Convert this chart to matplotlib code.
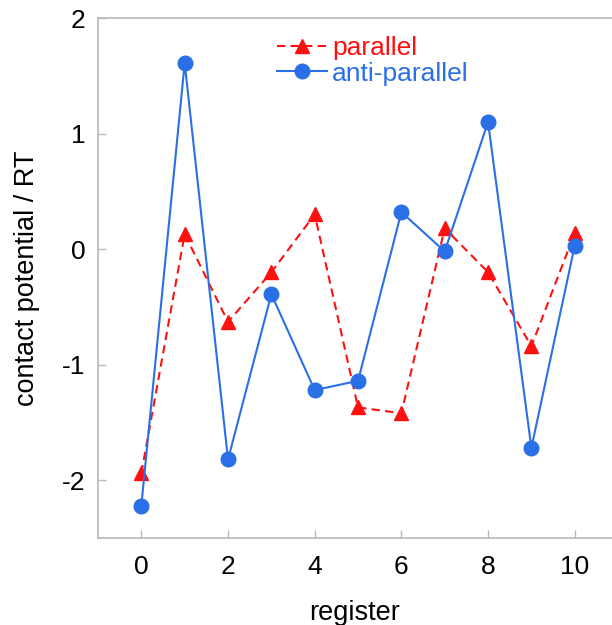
import matplotlib

matplotlib.use("Agg")
import matplotlib.pyplot as plt

registers = [0, 1, 2, 3, 4, 5, 6, 7, 8, 9, 10]
parallel = [-1.94, 0.13, -0.63, -0.20, 0.30, -1.37, -1.42, 0.18, -0.20, -0.84, 0.14]
anti_parallel = [-2.22, 1.61, -1.82, -0.39, -1.22, -1.14, 0.32, -0.02, 1.10, -1.72, 0.03]
x_ticks = [0, 2, 4, 6, 8, 10]
y_ticks = [-2, -1, 0, 1, 2]

RED = "#ff1010"
BLUE = "#2b6fe6"
GRAY = "#b8b8b8"

plt.rcParams["font.family"] = ["Liberation Sans", "DejaVu Sans"]
plt.rcParams["axes.unicode_minus"] = False

fig = plt.figure(figsize=(6.12, 6.25), dpi=100)
W, H = 612, 625
left, right, top, bottom = 98, 612, 18, 538
ax = fig.add_axes([left / W, 1 - bottom / H, (right - left) / W, (bottom - top) / H])

ax.plot(registers, parallel, color=RED, linestyle="--", dashes=(4, 2.5), linewidth=1.5,
        marker="^", markersize=10, label="parallel", clip_on=False)
ax.plot(registers, anti_parallel, color=BLUE, linewidth=1.5,
        marker="o", markersize=10.5, label="anti-parallel", clip_on=False)

ax.set_xlim(-1, 10.86)
ax.set_ylim(-2.5, 2)
ax.set_xticks(x_ticks)
ax.set_yticks(y_ticks)
ax.tick_params(direction="in", length=6, width=1, color=GRAY, labelsize=19)
ax.tick_params(axis="x", pad=12)
ax.tick_params(axis="y", pad=9)
for side in ["left", "bottom", "top"]:
    ax.spines[side].set_color(GRAY)
    ax.spines[side].set_linewidth(1.2)
ax.spines["right"].set_visible(False)

ax.set_xlabel("register", fontsize=19.5, labelpad=15)
ax.set_ylabel("contact potential / RT", fontsize=19.5, labelpad=16)

ax.legend(loc="upper left", bbox_to_anchor=(0.322, 0.99), frameon=False, fontsize=19,
          handlelength=1.9, handletextpad=0.2, labelspacing=0.05, borderpad=0,
          labelcolor="linecolor")

fig.savefig("out.png", dpi=100)
